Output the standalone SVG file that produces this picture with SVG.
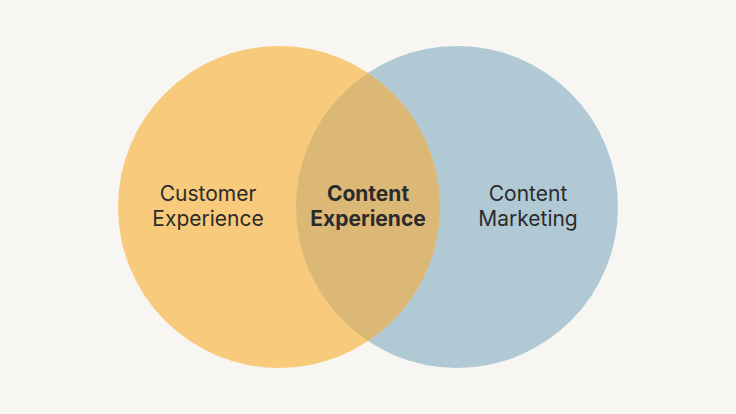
<svg xmlns="http://www.w3.org/2000/svg" width="736" height="414" viewBox="0 0 736 414">
<style>
text{font-family:Inter,"Noto Sans","Liberation Sans",sans-serif;font-size:21px;fill:#2b2b2b;text-anchor:middle}
.b{font-weight:700}
</style>
<defs><clipPath id="cl"><circle cx="279" cy="207" r="161"/></clipPath></defs>
<rect width="736" height="414" fill="#f7f6f3"/>
<g id="marketing"><circle cx="457" cy="207" r="161" fill="#b0c9d5"/></g>
<g id="customer"><circle cx="279" cy="207" r="161" fill="#f8ca7c"/></g>
<g id="overlap"><circle cx="457" cy="207" r="161" fill="#dcb877" clip-path="url(#cl)"/></g>
<g id="connectors"/>
<g id="labels">
<text x="208" y="201">Customer</text><text x="208" y="226">Experience</text>
<text class="b" x="368" y="201">Content</text><text class="b" x="368" y="226">Experience</text>
<text x="528" y="201">Content</text><text x="528" y="226">Marketing</text>
</g>
</svg>
